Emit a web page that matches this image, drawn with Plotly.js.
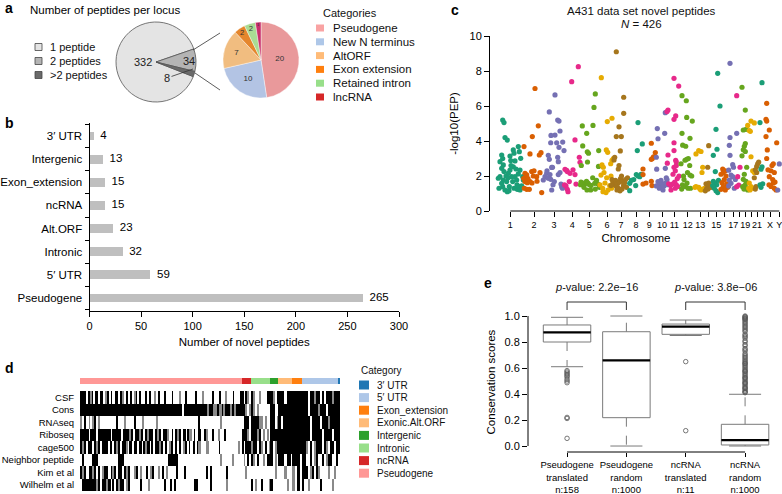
<!DOCTYPE html>
<html>
<head>
<meta charset="utf-8">
<script src="https://cdn.plot.ly/plotly-3.0.1.min.js"></script>
<style>
  html, body { margin: 0; padding: 0; background: #fff; }
  #fig { width: 782px; height: 494px; }
</style>
</head>
<body>
<div id="fig"></div>
<script>
const W = 782, H = 494;
const FONT = 'Liberation Sans, Arial, Helvetica, sans-serif';

// ---- a: peptides per locus ----
const locusLabels = ['1 peptide', '2 peptides', '>2 peptides'];
const locusCounts = [332, 34, 8];
const locusColors = ['#e4e4e4', '#b4b4b4', '#6a6a6a'];
const multiCats = ['Pseudogene', 'New N terminus', 'AltORF', 'Exon extension', 'Retained intron', 'lncRNA'];
const multiCounts = [20, 10, 7, 2, 2, 1];
const multiColors = ['#e9999b', '#b3c4e4', '#f1bd80', '#e5862c', '#a9dc94', '#c92f6b'];
const multiLegendColors = ['#f9a3a3', '#aec7e8', '#ffbb78', '#ff7f0e', '#98df8a', '#d62728'];

// ---- b: novel peptides per region ----
const regionCats = ['Pseudogene', '5′ UTR', 'Intronic', 'Alt.ORF', 'ncRNA', 'Exon_extension', 'Intergenic', '3′ UTR'];
const regionCounts = [265, 59, 32, 23, 15, 15, 13, 4];

// ---- c: manhattan plot ----
const chromLabels = ['1','2','3','4','5','6','7','8','9','10','11','12','13','14','15','16','17','18','19','20','21','22','X','Y'];
const chromShown = ['1','2','3','4','5','6','7','8','9','10','11','12','13','','15','','17','','19','','21','','X','Y'];
const chromCenters = [20.3, 44, 64, 82.3, 99.3, 117, 131, 146, 159.3, 172, 184.3, 197.7, 210.3, 218.5, 226.3, 234.5, 243.3, 249.5, 255.3, 261.3, 267, 273.5, 280, 289.3];
const chromPalette = ['#1b9e77', '#d95f02', '#7570b3', '#e7298a', '#66a61e', '#e6ab02', '#a6761d'];
// [cumulative position, -log10(PEP)] per chromosome
const chrPeptides = [
  [[12.7,5.2],[14,5.05],[15,4.2],[17.3,4.05],[11.7,3.2],[12.7,3.0],[10,2.82],[13.3,2.63],[11.7,2.44],[14,2.25],[16,2.0],[10,1.96],[13.3,1.77],[16.7,1.68],[12.7,1.39],[15,1.2],[17.3,1.1],[20,3.14],[23.3,3.49],[24,3.3],[20.7,2.88],[25,2.86],[28.3,3.68],[29.3,3.39],[30.7,3.01],[23.3,2.53],[20,2.34],[18.3,2.15],[21.7,1.96],[25,1.96],[26.7,1.77],[28.3,2.12],[22.7,1.68],[24,1.3],[27.3,1.24],[29.3,1.39],[30,1.2],[31.7,1.43],[32.7,1.96],[30,2.34],[33.3,1.77],[19.3,1.39],[11.7,1.58],[8.3,1.87],[18,1.9],[21,2.6],[26,2.4],[9,1.3],[19,1.15],[27,1.5]],
  [[45,7.0],[48.3,4.87],[42.3,4.25],[34,3.68],[40,3.26],[49.3,3.2],[51,3.33],[35,2.15],[33.7,1.87],[36.7,2.06],[41.7,2.25],[43.3,2.0],[46.7,1.96],[50,2.19],[40,1.68],[35,1.68],[37.3,1.62],[34.3,1.3],[36.7,1.24],[39.3,1.24],[51.7,1.05],[44,2.3],[38,1.85],[47,1.7],[42,1.6]],
  [[65,6.63],[59.3,5.66],[67.7,5.2],[69,5.14],[70,4.57],[65,4.34],[61,4.32],[66.7,3.9],[60.7,3.9],[72.7,3.94],[69,3.64],[74,3.45],[58.3,3.18],[59.3,2.95],[67.7,3.07],[68.3,2.82],[61.7,2.49],[70,2.2],[56.7,2.15],[60,2.08],[55,1.96],[58.3,1.87],[60.7,1.81],[68.3,2.08],[64.3,1.68],[71,1.54],[71.7,1.39],[61.7,1.2],[53.3,1.77],[63,1.5],[72.5,1.3],[57,2.3],[62.5,2.5]],
  [[88.3,8.25],[81.7,7.39],[85,4.06],[89.3,3.07],[90,2.78],[75,2.38],[77.3,2.25],[76.7,2.32],[80,2.15],[85,2.08],[79.3,1.68],[76,1.43],[77.3,1.24],[86,1.54],[78,1.1],[74.5,1.5],[83,2.35]],
  [[92.3,4.86],[96.7,4.44],[92.7,3.72],[97.3,3.38],[98.5,3.3],[97.5,2.8],[91.3,2.6],[105.3,6.69],[104,5.92],[103,4.89],[108.7,3.45],[108.5,2.55],[102.7,1.9],[91,1.65],[93,1.6],[95,1.55],[96.5,1.7],[98,1.6],[99.5,1.5],[94,1.35],[97,1.2],[100.7,1.2],[104.7,1.58],[108,1.54],[105.3,1.25],[101,1.45],[90.5,1.5],[106.5,1.75],[109.5,1.35]],
  [[111.3,7.62],[122,5.3],[117.3,5.11],[116.3,3.49],[117.7,3.35],[123.3,3.0],[122,2.9],[112,2.63],[113.3,2.5],[114,2.2],[111,2.05],[116.7,1.9],[120.7,2.7],[121,2.0],[115,1.6],[112.7,1.3],[113,1.1],[118,1.2],[123,1.68],[119.7,1.45],[110,1.49],[116,1.05],[121.5,1.3]],
  [[126.3,9.1],[133.7,6.5],[133.7,5.58],[129,4.81],[126.3,4.25],[131.3,4.25],[130.3,3.43],[124.7,3.07],[124,2.92],[129,2.6],[128.3,2.4],[122,1.8],[123,1.6],[124.5,1.5],[125.5,1.75],[126.5,1.4],[127.5,1.55],[128.5,1.3],[129.5,1.65],[130.5,1.85],[131.5,2.0],[132.5,1.7],[133.5,1.45],[134.5,1.6],[135.5,1.8],[136.5,1.35],[127,1.2],[130,1.15],[132,1.25],[121,1.45],[137.5,1.9]],
  [[148,5.05],[152.3,3.83],[147.3,3.45],[146.3,2.08],[148,2.0],[149.7,1.96],[143.7,1.8],[139.7,1.58],[145.7,1.45],[139.7,1.16],[141.5,1.75],[151,2.1]],
  [[161.3,3.87],[165.3,3.34],[163.5,3.1],[162.3,3.0],[161.3,2.95],[153,2.4],[153,2.08],[161.3,1.7],[162,1.45],[153,1.54],[156,1.6]],
  [[175.3,5.62],[167.3,4.71],[174.7,4.44],[168,4.13],[166.3,3.07],[166.7,2.39],[175.3,2.44],[168,1.68],[169.7,1.5],[170.7,1.39],[172,1.58],[174,1.43],[169.3,1.3],[166.3,1.43],[176.3,1.62],[178,1.5],[173,1.2],[177,1.8],[176.3,1.9],[171,1.75]],
  [[184,7.58],[188.7,7.14],[178,5.77],[177,5.68],[185.7,5.43],[184,5.24],[184,3.9],[178,3.2],[177.3,2.73],[185.7,2.9],[186.3,2.8],[184,2.5],[186.3,2.6],[185.3,2.3],[183,2.1],[187.3,1.85],[184.7,1.65],[183,1.55],[186.3,1.5],[185.3,1.3],[188,1.4],[180.7,1.45],[178.7,1.55],[184,3.45],[181,1.2],[189,2.0]],
  [[192,6.59],[196.3,6.3],[196.7,5.35],[202.3,5.14],[192,4.44],[200,4.15],[192.7,3.76],[195.7,3.7],[191,2.7],[195,2.9],[196.7,2.95],[198.3,3.0],[199.7,2.6],[197.5,2.2],[193.5,2.0],[200,2.05],[201.7,2.0],[194,1.8],[197,1.6],[192.5,1.5],[195.5,1.4],[198,1.3],[200.5,1.3],[191.7,1.25]],
  [[208.7,3.45],[206,3.26],[211,3.4],[212.7,2.5],[212,2.2],[206,1.4],[208.7,1.35],[211,1.2],[214.3,1.3],[205,1.35],[210,1.25]],
  [[218.7,3.73],[217.7,2.5],[216,1.55],[218.7,1.6],[220,1.45],[216.7,1.3],[215.3,1.15],[218,1.25],[221,1.35]],
  [[227.7,7.87],[230,6.0],[226,4.67],[227,3.53],[223.3,3.18],[225.3,2.25],[223.3,1.7],[225.3,1.6],[226.7,1.5],[224.3,1.3],[226,1.15],[222.7,1.45],[227.7,1.05],[228.5,1.75]],
  [[232.7,2.4],[233.3,2.2],[235.3,2.3],[231,2.1],[236,2.0],[234.3,1.8],[232,1.62],[236.7,1.55],[233.3,1.4],[231,1.24],[235.3,1.2],[237.7,1.35]],
  [[240,8.44],[246.7,4.44],[240,4.2],[239.3,3.75],[240,3.18],[242.7,2.65],[238.7,2.33],[241,2.05],[242.7,1.96],[239.3,1.77],[241,1.58],[238.7,1.43],[244.3,1.3],[245.3,1.8],[243.5,2.5]],
  [[246.7,6.59],[250,2.5],[247.7,1.96],[246.7,1.39],[248.7,1.48]],
  [[252,7.07],[255.3,5.77],[253.3,4.63],[256,4.67],[255.3,3.85],[254.3,3.7],[253.3,3.5],[255.3,3.4],[252,3.15],[256.7,2.5],[254.3,2.1],[253.3,1.81],[256,1.7],[255.3,1.5],[252.7,1.39],[256.7,1.3],[257.7,1.2],[254,1.25]],
  [[261,5.14],[264.3,5.03],[257.7,4.89],[259.3,4.6],[260.3,4.55],[261,3.1],[262.7,2.3],[264.3,2.2],[259.3,1.6],[261,1.4],[258.7,1.3],[262.7,1.3],[260,1.2]],
  [[268.7,2.8],[267.7,2.7],[266.7,2.55],[265.3,2.35],[266.7,2.2],[264.3,1.9],[266,1.4],[265.3,1.25]],
  [[272,7.33],[270,5.05],[272,2.53],[271,2.39],[270,1.5],[272.7,1.55],[271,1.35]],
  [[276.7,6.15],[276,5.24],[276.7,5.14],[279.3,4.63],[276,4.25],[286.7,3.9],[277.3,3.49],[276.7,3.0],[283.3,2.7],[282,2.6],[281,2.3],[284.3,2.2],[278,2.35],[279.3,1.96],[282.7,1.8],[283.3,1.6],[281,1.4],[284.3,1.3],[286,1.2],[279,1.5],[285,1.65]],
  [[289.3,2.69],[287.7,1.2]]
];

// ---- d: evidence heatmap ----
const stripCats = ['Pseudogene', 'ncRNA', 'Intronic', 'Intergenic', 'Exonic.Alt.ORF', 'Exon_extension', '5′ UTR', '3′ UTR'];
const stripCounts = [265, 15, 32, 13, 23, 15, 59, 4];
const stripColors = ['#ff9896', '#d62728', '#98df8a', '#2ca02c', '#ffbb78', '#ff7f0e', '#aec7e8', '#1f77b4'];
const legendCats = ['3′ UTR', '5′ UTR', 'Exon_extension', 'Exonic.Alt.ORF', 'Intergenic', 'Intronic', 'ncRNA', 'Pseudogene'];
const legendCatColors = ['#1f77b4', '#aec7e8', '#ff7f0e', '#ffbb78', '#2ca02c', '#98df8a', '#d62728', '#ff9896'];
const heatRowLabels = ['CSF', 'Cons', 'RNAseq', 'Riboseq', 'cage500', 'Neighbor peptide', 'Kim et al', 'Wilhelm et al'];
// one string per category segment: '#' present, '+' partial, '.' absent
const heatRows = [
  ['###.#+#.#.##.+#.#.##.#+.#.#.+#.#..#.#..+.#..#...#...+..#....#...+....#...#..+...#...#', '#.#+.', '#+..+...##', '#+.#', '###.###', '####', '###.##+##.#.###+##', '#'],
  ['#################################################.###########+##++#+#+##+#+###', '##+.+', '#+.+......', '##..', '#######', '####', '###.####+###.#####', '#'],
  ['+.#.+.+#.+........#...+....#...+......+....................#..........+..........', '.###.', '####++.+..', '##.+', '#.#####', '####', '####.####.###+####', '#'],
  ['####.###.######.####.###+#.##+#.#+##.#+#.##+.#.#+#.#.#+.#.##.#+..#..+..#........', '###+.', '###+#.+.+.', '####', '#######', '####', '####.#####.####.##', '#'],
  ['#+#.##.#+#.###.#.#+#.##+.#.##.#.#+#.#.##+#.#.+#.#.#.+#.#.#.#+...+.....#.........+.', '#.###', '+##.#+.#.+', '#.+#', '#######', '####', '##+.#.+###.#+.##.#', '#'],
  ['.#....###..........###......................#####.....................+.....+....', '.+.#.', '#+.#..+.##', '#.+.', '###.##.', '###.', '##..#.+#..#.+##..#', '.'],
  ['#+#.##+#.#.+##.#+#.##.#+#..+#.+..#.+#..+.#.+....#...#..........#.#.......#.......', '..+..', '..........', '..+.', '...+...', '+.#.', '###.+#.#+....+..+.', '.'],
  ['.#######+#.##+#.#.#+##.+#.....#...+.......#..#.#.........##......#.......+.......', '.....', '#.+..#...+', '#...', '....+..', '+.#.', '#..+.....#.....+..', '.']
];

// ---- e: conservation scores ----
const boxLabels = ['Pseudogene<br>translated<br>n:158', 'Pseudogene<br>random<br>n:1000', 'ncRNA<br>translated<br>n:11', 'ncRNA<br>random<br>n:1000'];
const boxLower = [0.61, 0.0, 0.85, 0.0];
const boxQ1 = [0.80, 0.218, 0.859, 0.008];
const boxMedian = [0.874, 0.659, 0.918, 0.046];
const boxQ3 = [0.931, 0.879, 0.938, 0.167];
const boxUpper = [0.99, 1.0, 0.969, 0.398];
const boxOutliers = [
  [0.58, 0.57, 0.56, 0.55, 0.54, 0.53, 0.513, 0.50, 0.487, 0.22, 0.212, 0.059],
  [],
  [0.649, 0.118],
  [0.41, 0.415, 0.42, 0.43, 0.44, 0.445, 0.45, 0.46, 0.47, 0.48, 0.485, 0.49, 0.50, 0.51, 0.52, 0.525, 0.53, 0.54, 0.55, 0.56, 0.57, 0.575, 0.58, 0.59, 0.60, 0.61, 0.62, 0.63, 0.635, 0.64, 0.65, 0.66, 0.67, 0.68, 0.69, 0.70, 0.71, 0.73, 0.74, 0.75, 0.77, 0.78, 0.80, 0.81, 0.83, 0.84, 0.85, 0.86, 0.88, 0.89, 0.90, 0.91, 0.92, 0.93, 0.94, 0.95, 0.96, 0.97, 0.975, 0.98, 0.985, 0.99, 0.995, 1.0]
];
const pValues = ['2.2e−16', '3.8e−06'];

// helpers: pixel -> paper
const px = v => v / W;
const py = v => 1 - v / H;

const traces = [];
const shapes = [];
const annotations = [];

function label(text, x, y, opts = {}) {
  annotations.push(Object.assign({
    text: text, xref: 'paper', yref: 'paper', x: px(x), y: py(y),
    xanchor: 'left', yanchor: 'middle', showarrow: false,
    font: { size: 11, color: '#000', family: FONT }
  }, opts));
}
function square(x0, y0, x1, y1, color, lineColor) {
  shapes.push({
    type: 'rect', xref: 'paper', yref: 'paper',
    x0: px(x0), x1: px(x1), y0: py(y1), y1: py(y0),
    fillcolor: color, line: { color: lineColor || color, width: lineColor ? 0.8 : 0 }
  });
}
function line(x0, y0, x1, y1, color, width) {
  shapes.push({
    type: 'line', xref: 'paper', yref: 'paper',
    x0: px(x0), y0: py(y0), x1: px(x1), y1: py(y1),
    line: { color: color || '#000', width: width || 1 }
  });
}

// panel letters
[['a', 3, 8], ['b', 3, 123], ['c', 449, 10], ['d', 3, 368], ['e', 482, 283]].forEach(([t, x, y]) => {
  label('<b>' + t + '</b>', x, y, { font: { size: 14, color: '#000', family: FONT } });
});

// ---- a ----
label('Number of peptides per locus', 28, 10, { font: { size: 11.5, color: '#000', family: FONT } });
traces.push({
  type: 'pie', values: locusCounts, labels: locusLabels, sort: false,
  direction: 'clockwise', rotation: 111.4, textinfo: 'none',
  marker: { colors: locusColors, line: { color: '#555', width: 0.8 } },
  domain: { x: [px(116), px(196)], y: [py(102), py(22)] }
});
traces.push({
  type: 'pie', values: multiCounts, labels: multiCats, sort: false,
  direction: 'clockwise', rotation: 0, textinfo: 'value', textposition: 'inside',
  insidetextorientation: 'horizontal',
  textfont: { size: 8, color: '#333', family: FONT },
  marker: { colors: multiColors, line: { color: '#fff', width: 0.4 } },
  domain: { x: [px(223), px(299)], y: [py(98), py(22)] }
});
label(String(locusCounts[0]), 143, 62, { xanchor: 'center', font: { size: 11, color: '#222', family: FONT } });
label(String(locusCounts[1]), 189, 61, { xanchor: 'center', font: { size: 11, color: '#222', family: FONT } });
annotations.push({
  text: String(locusCounts[2]), xref: 'paper', yref: 'paper', x: px(193), y: py(69),
  ax: -26, ay: 9, showarrow: true, arrowhead: 0, arrowwidth: 0.8, arrowcolor: '#333',
  standoff: 0, startstandoff: 0, font: { size: 11, color: '#222', family: FONT }
});
line(193, 50, 220, 33, '#333', 0.8);
line(195, 73, 220, 90, '#333', 0.8);
locusLabels.forEach((t, i) => {
  const y = 47 + i * 14;
  square(35, y - 3.5, 42, y + 3.5, locusColors[i], '#444');
  label(t, 48, y, { font: { size: 11, color: '#111', family: FONT } });
});
label('Categories', 321, 13, { font: { size: 11, color: '#111', family: FONT } });
multiCats.forEach((t, i) => {
  const y = 28 + i * 13.8;
  square(316, y - 3.5, 324, y + 3.5, multiLegendColors[i]);
  label(t, 331, y, { font: { size: 11.5, color: '#111', family: FONT } });
});

// ---- b ----
const regionIdx = regionCats.map((_, i) => i);
traces.push({
  type: 'bar', orientation: 'h', x: regionCounts, y: regionIdx, width: 0.38,
  marker: { color: '#bfbfbf', line: { width: 0 } }, xaxis: 'x', yaxis: 'y'
});
traces.push({
  type: 'scatter', mode: 'markers+text', x: regionCounts, y: regionIdx,
  text: regionCounts.map(String), textposition: 'middle right',
  textfont: { size: 11.5, color: '#000', family: FONT },
  marker: { size: 9, opacity: 0 }, xaxis: 'x', yaxis: 'y', cliponaxis: false
});

// ---- c ----
chrPeptides.forEach((pts, k) => {
  traces.push({
    type: 'scatter', mode: 'markers', xaxis: 'x2', yaxis: 'y2',
    x: pts.map(p => p[0]), y: pts.map(p => p[1]), name: chromLabels[k],
    marker: { size: 5.2, color: chromPalette[k % chromPalette.length] },
    cliponaxis: false
  });
});
label('A431 data set novel peptides', 641, 11, { xanchor: 'center', font: { size: 11.5, color: '#111', family: FONT } });
label('<i>N</i> = 426', 641, 24, { xanchor: 'center', font: { size: 11.5, color: '#111', family: FONT } });
shapes.push({
  type: 'line', xref: 'x2', yref: 'paper', x0: chromCenters[0], x1: chromCenters[chromCenters.length - 1],
  y0: py(211), y1: py(211), line: { color: '#000', width: 1 }
});

// ---- d ----
function expandRow(segs) {
  const out = [];
  segs.forEach((seg, k) => {
    const n = stripCounts[k];
    for (let j = 0; j < n; j++) {
      const ch = seg[Math.floor(j * seg.length / n)];
      out.push(ch === '#' ? 1 : ch === '+' ? 0.55 : 0);
    }
  });
  return out;
}
const total = stripCounts.reduce((a, b) => a + b, 0);
traces.push({
  type: 'heatmap', z: heatRows.map(expandRow), y: heatRowLabels, x0: 0.5, dx: 1,
  colorscale: [[0, '#ffffff'], [0.55, '#8a8a8a'], [1, '#000000']], zmin: 0, zmax: 1,
  showscale: false, xaxis: 'x3', yaxis: 'y3'
});
stripCats.forEach((c, k) => {
  traces.push({
    type: 'bar', orientation: 'h', x: [stripCounts[k]], y: [0], width: 1, name: c,
    marker: { color: stripColors[k], line: { width: 0 } }, xaxis: 'x5', yaxis: 'y5'
  });
});
label('Category', 359, 370, { font: { size: 10, color: '#111', family: FONT } });
legendCats.forEach((t, i) => {
  const y = 385 + i * 12.6;
  square(359, y - 4.5, 369, y + 4.5, legendCatColors[i]);
  label(t, 375, y, { font: { size: 10, color: '#111', family: FONT } });
});

// ---- e ----
const hw = 0.4, cw = 0.27;
const rx = [], ry = [], mx = [], my = [], wx = [], wy = [], cx = [], cy = [], ox = [], oy = [];
boxQ1.forEach((q1, i) => {
  const c = i + 1;
  rx.push(c - hw, c + hw, c + hw, c - hw, c - hw, null);
  ry.push(q1, q1, boxQ3[i], boxQ3[i], q1, null);
  mx.push(c - hw, c + hw, null);
  my.push(boxMedian[i], boxMedian[i], null);
  wx.push(c, c, null, c, c, null);
  wy.push(boxQ3[i], boxUpper[i], null, q1, boxLower[i], null);
  cx.push(c - cw, c + cw, null, c - cw, c + cw, null);
  cy.push(boxUpper[i], boxUpper[i], null, boxLower[i], boxLower[i], null);
  boxOutliers[i].forEach(v => { ox.push(c); oy.push(v); });
});
const boxLine = { color: '#7a7a7a', width: 1 };
traces.push({ type: 'scatter', mode: 'lines', x: wx, y: wy, line: { color: '#7a7a7a', width: 1, dash: 'dash' }, xaxis: 'x4', yaxis: 'y4', cliponaxis: false });
traces.push({ type: 'scatter', mode: 'lines', x: cx, y: cy, line: boxLine, xaxis: 'x4', yaxis: 'y4', cliponaxis: false });
traces.push({ type: 'scatter', mode: 'lines', x: rx, y: ry, line: boxLine, fill: 'none', xaxis: 'x4', yaxis: 'y4', cliponaxis: false });
traces.push({ type: 'scatter', mode: 'lines', x: mx, y: my, line: { color: '#000', width: 2.2 }, xaxis: 'x4', yaxis: 'y4', cliponaxis: false });
traces.push({
  type: 'scatter', mode: 'markers', x: ox, y: oy, xaxis: 'x4', yaxis: 'y4', cliponaxis: false,
  marker: { symbol: 'circle-open', size: 4.5, color: '#555', line: { width: 0.8 } }
});
shapes.push({ type: 'line', xref: 'paper', yref: 'y4', x0: px(528), x1: px(528), y0: 0, y1: 1, line: { color: '#000', width: 1 } });
shapes.push({ type: 'line', xref: 'x4', yref: 'paper', x0: 1, x1: 4, y0: py(452), y1: py(452), line: { color: '#000', width: 1 } });
[[1, 2], [3, 4]].forEach(([a, b], k) => {
  shapes.push({ type: 'line', xref: 'x4', yref: 'paper', x0: a, x1: b, y0: py(302), y1: py(302), line: { color: '#333', width: 1 } });
  shapes.push({ type: 'line', xref: 'x4', yref: 'paper', x0: a, x1: a, y0: py(302), y1: py(310), line: { color: '#333', width: 1 } });
  shapes.push({ type: 'line', xref: 'x4', yref: 'paper', x0: b, x1: b, y0: py(302), y1: py(310), line: { color: '#333', width: 1 } });
  annotations.push({
    text: '<i>p</i>-value: ' + pValues[k], xref: 'x4', yref: 'paper', x: (a + b) / 2, y: py(287),
    xanchor: 'center', yanchor: 'middle', showarrow: false, font: { size: 11, color: '#111', family: FONT }
  });
});

const axBase = { showgrid: false, zeroline: false, automargin: false, fixedrange: true, linecolor: '#000', tickcolor: '#000' };
const layout = {
  width: W, height: H, margin: { l: 0, r: 0, t: 0, b: 0 },
  paper_bgcolor: '#fff', plot_bgcolor: 'rgba(0,0,0,0)',
  font: { family: FONT, color: '#000' }, showlegend: false, hovermode: false,
  barmode: 'stack',
  xaxis: Object.assign({}, axBase, {
    domain: [px(89.5), px(399)], range: [0, 300], anchor: 'y', tick0: 0, dtick: 50,
    showline: true, linewidth: 1, ticks: 'outside', ticklen: 5, tickfont: { size: 11 },
    title: { text: 'Number of novel peptides', font: { size: 11.5 }, standoff: 6 }
  }),
  yaxis: Object.assign({}, axBase, {
    domain: [py(311), py(123)], range: [-0.56, 7.56], anchor: 'x',
    tickmode: 'array', tickvals: regionIdx, ticktext: regionCats,
    ticks: 'outside', ticklen: 4, tickcolor: 'rgba(0,0,0,0)', tickfont: { size: 11.5 },
    minor: { tickvals: [-0.5, 0.5, 1.5, 2.5, 3.5, 4.5, 5.5, 6.5, 7.5], ticks: 'outside', ticklen: 4, tickcolor: '#000', showgrid: false },
    showline: true, linewidth: 1
  }),
  xaxis2: Object.assign({}, axBase, {
    domain: [px(490), px(782)], range: [0, 292], anchor: 'y2',
    tickmode: 'array', tickvals: chromCenters, ticktext: chromShown, tickangle: 0,
    ticklabeloverflow: 'allow',
    ticks: 'outside', ticklen: 5, tickfont: { size: 9 }, showline: false,
    title: { text: 'Chromosome', font: { size: 11.5 }, standoff: 5 }
  }),
  yaxis2: Object.assign({}, axBase, {
    domain: [py(211), py(36)], range: [0, 10], anchor: 'x2', tick0: 0, dtick: 2,
    ticks: 'outside', ticklen: 5, tickfont: { size: 11 }, showline: true, linewidth: 1,
    title: { text: '-log10(PEP)', font: { size: 11.5 }, standoff: 8 }
  }),
  xaxis3: Object.assign({}, axBase, {
    domain: [px(80), px(340)], range: [0, total], anchor: 'y3',
    showticklabels: false, ticks: '', showline: false
  }),
  yaxis3: Object.assign({}, axBase, {
    domain: [py(491), py(391)], range: [7.5, -0.5], anchor: 'x3', type: 'category',
    ticks: 'outside', ticklen: 3, tickcolor: 'rgba(0,0,0,0)', tickfont: { size: 9.5 }, showline: false
  }),
  xaxis5: Object.assign({}, axBase, { domain: [px(80), px(340)], range: [0, total], anchor: 'y5', visible: false }),
  yaxis5: Object.assign({}, axBase, { domain: [py(384), py(378)], range: [-0.5, 0.5], anchor: 'x5', visible: false }),
  xaxis4: Object.assign({}, axBase, {
    domain: [px(528), px(770)], range: [0.342, 4.42], anchor: 'y4',
    tickmode: 'array', tickvals: [1, 2, 3, 4], ticktext: boxLabels, tickangle: 0,
    ticks: 'outside', ticklen: 4, tickfont: { size: 9.5 }, showline: false
  }),
  yaxis4: Object.assign({}, axBase, {
    domain: [py(452), py(312.1)], range: [-0.046, 1.03], anchor: 'x4',
    tickmode: 'array', tickvals: [0, 0.2, 0.4, 0.6, 0.8, 1.0], ticktext: ['0.0', '0.2', '0.4', '0.6', '0.8', '1.0'],
    ticks: 'outside', ticklen: 5, tickfont: { size: 11 }, showline: false,
    title: { text: 'Conservation scores', font: { size: 11.5 }, standoff: 6 }
  }),
  shapes: shapes,
  annotations: annotations
};

Plotly.newPlot('fig', traces, layout, { staticPlot: true, displayModeBar: false });
</script>
</body>
</html>
